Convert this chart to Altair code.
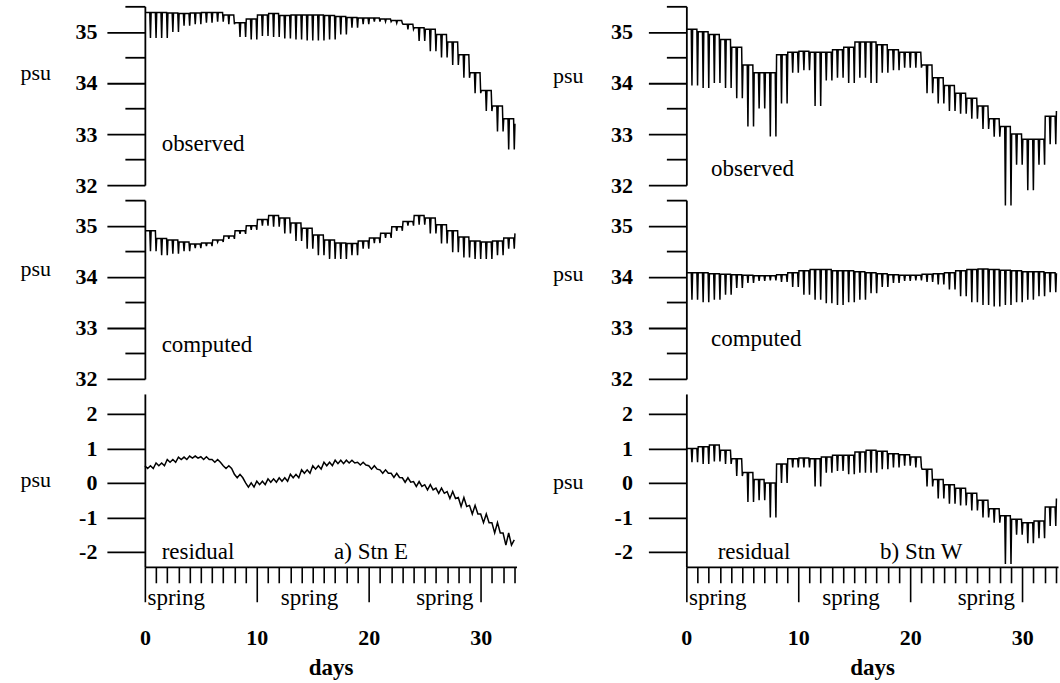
import altair as alt
import pandas as pd

# ---------------- values (one hi/lo pair per day) ----------------
DAYS = list(range(34))

OBS_E_HI = [35.38, 35.38, 35.37, 35.36, 35.37, 35.38, 35.38, 35.33, 35.18, 35.25,
            35.33, 35.36, 35.32, 35.33, 35.33, 35.33, 35.32, 35.30, 35.28, 35.27,
            35.27, 35.25, 35.22, 35.15, 35.08, 35.05, 34.95, 34.80, 34.55, 34.20,
            33.85, 33.55, 33.30, 33.20]
OBS_E_LO = [34.88, 34.88, 35.00, 35.12, 35.15, 35.18, 35.20, 35.15, 34.90, 34.85,
            34.92, 34.90, 34.87, 34.85, 34.83, 34.83, 34.85, 34.95, 35.08, 35.15,
            35.20, 35.20, 35.17, 35.05, 34.82, 34.62, 34.50, 34.35, 34.10, 33.80,
            33.45, 33.05, 32.70, 32.50]

COMP_E_HI = [34.90, 34.75, 34.72, 34.68, 34.64, 34.66, 34.72, 34.80, 34.90, 35.00,
             35.12, 35.20, 35.15, 35.05, 34.95, 34.82, 34.72, 34.66, 34.65, 34.70,
             34.76, 34.85, 34.98, 35.08, 35.20, 35.15, 35.02, 34.90, 34.78, 34.70,
             34.68, 34.70, 34.76, 34.85]
COMP_E_LO = [34.50, 34.42, 34.45, 34.50, 34.56, 34.60, 34.68, 34.74, 34.84, 34.92,
             35.00, 34.98, 34.85, 34.70, 34.55, 34.42, 34.35, 34.35, 34.42, 34.55,
             34.66, 34.76, 34.90, 35.00, 35.02, 34.85, 34.65, 34.48, 34.38, 34.35,
             34.35, 34.42, 34.55, 34.70]

RES_E_HI = [0.50, 0.58, 0.68, 0.75, 0.78, 0.76, 0.68, 0.50, 0.25, 0.00,
            0.05, 0.12, 0.15, 0.25, 0.38, 0.50, 0.60, 0.66, 0.66, 0.60,
            0.50, 0.38, 0.28, 0.15, 0.04, -0.05, -0.15, -0.25, -0.42, -0.65,
            -0.90, -1.15, -1.45, -1.65]
RES_E_LO = [0.42, 0.50, 0.60, 0.68, 0.72, 0.68, 0.60, 0.42, 0.15, -0.12,
            -0.05, 0.02, 0.05, 0.15, 0.28, 0.40, 0.50, 0.56, 0.58, 0.52,
            0.40, 0.28, 0.16, 0.02, -0.10, -0.20, -0.30, -0.45, -0.68, -0.90,
            -1.15, -1.45, -1.80, -2.05]

OBS_W_HI = [35.05, 35.00, 34.95, 34.85, 34.70, 34.35, 34.20, 34.20, 34.55, 34.60,
            34.62, 34.60, 34.60, 34.65, 34.70, 34.80, 34.80, 34.75, 34.65, 34.60,
            34.60, 34.35, 34.10, 33.95, 33.80, 33.70, 33.55, 33.30, 33.15, 33.00,
            32.90, 32.90, 33.35, 33.45]
OBS_W_LO = [33.95, 33.90, 34.00, 33.90, 33.70, 33.15, 33.50, 32.95, 33.60, 34.20,
            34.25, 33.55, 34.05, 34.10, 34.00, 34.10, 34.00, 34.20, 34.25, 34.30,
            34.30, 33.80, 33.60, 33.45, 33.40, 33.30, 33.10, 32.95, 31.60, 32.40,
            31.90, 32.40, 32.80, 33.00]

COMP_W_HI = [34.08, 34.08, 34.06, 34.05, 34.04, 34.03, 34.02, 34.02, 34.04, 34.08,
             34.12, 34.14, 34.14, 34.12, 34.12, 34.10, 34.08, 34.06, 34.04, 34.03,
             34.03, 34.05, 34.06, 34.08, 34.12, 34.14, 34.15, 34.14, 34.13, 34.12,
             34.10, 34.10, 34.08, 34.07]
COMP_W_LO = [33.55, 33.50, 33.55, 33.65, 33.78, 33.88, 33.92, 33.93, 33.90, 33.80,
             33.65, 33.55, 33.48, 33.45, 33.50, 33.55, 33.68, 33.80, 33.88, 33.92,
             33.93, 33.90, 33.85, 33.75, 33.62, 33.50, 33.45, 33.42, 33.45, 33.50,
             33.55, 33.62, 33.70, 33.75]

RES_W_HI = [1.00, 1.05, 1.10, 0.95, 0.70, 0.30, 0.10, 0.00, 0.55, 0.70,
            0.72, 0.70, 0.75, 0.80, 0.80, 0.90, 0.95, 0.92, 0.85, 0.82,
            0.75, 0.40, 0.10, -0.05, -0.15, -0.30, -0.50, -0.75, -0.95, -1.05,
            -1.15, -1.10, -0.70, -0.45]
RES_W_LO = [0.60, 0.55, 0.62, 0.55, 0.20, -0.55, -0.50, -1.00, 0.00, 0.45,
            0.45, -0.10, 0.30, 0.35, 0.25, 0.30, 0.30, 0.40, 0.45, 0.50,
            0.45, -0.10, -0.45, -0.60, -0.65, -0.80, -1.00, -1.15, -2.35, -1.50,
            -1.75, -1.60, -1.25, -1.05]

# annotation texts
OBS_TEXT_DAY = [1.5, 2.2]
OBS_TEXT_V = [32.8, 32.32]
COMP_TEXT_DAY = [1.5, 2.2]
COMP_TEXT_V = [32.66, 32.78]
RES_TEXT_E = ["residual", "a) Stn E"]
RES_TEXT_E_DAY = [1.5, 16.9]
RES_TEXT_W = ["residual", "b) Stn W"]
RES_TEXT_W_DAY = [2.8, 17.3]
RES_TEXT_V = -2.0
SPRING_DAYS = [2.8, 14.7, 26.8]

TOP_TICKS = [32, 32.5, 33, 33.5, 34, 34.5, 35, 35.5]
RES_TICKS = [-2, -1, 0, 1, 2]
DAY_TICKS = list(range(34))

# ---------------- layout / style ----------------
FONT = "Liberation Serif"
XMAX = 33.2
W = 372
H_TOP = 179
H_RES = 173
TOP_DOMAIN = [32, 35.5]
RES_DOMAIN = [-2.43, 2.58]
# sample times within a day (two tides a day)
NEEDLE = [(0.06, "h"), (0.44, "h"), (0.5, "l"), (0.56, "h"), (0.94, "h"), (1.0, "l")]
ZIGZAG = [(0.0, "h"), (0.25, "l"), (0.5, "h"), (0.75, "l")]


def series(hi, lo, pattern):
    rows = []
    for d, h, l in zip(DAYS, hi, lo):
        for off, which in pattern:
            t = d + off
            if t <= XMAX:
                rows.append({"day": t, "v": h if which == "h" else l})
    return pd.DataFrame(rows)


def x_enc(bottom):
    if bottom:
        axis = alt.Axis(
            values=DAY_TICKS,
            tickSize={"condition": {"test": "datum.value % 10 === 0", "value": 35}, "value": 16},
            labelExpr="datum.value % 10 === 0 ? '' + datum.value : ''",
            labelPadding=26, labelFlush=False, labelOverlap=False,
            labelFont=FONT, labelFontSize=22, labelFontWeight="bold", labelColor="black",
            domainColor="black", domainWidth=1.8, tickColor="black", tickWidth=1.6,
            grid=False, title="days", titleY=101, titleBaseline="middle",
            titleFont=FONT, titleFontSize=23, titleFontWeight="bold", titleColor="black",
        )
    else:
        axis = None
    return alt.X("day:Q", scale=alt.Scale(domain=[0, XMAX], nice=False, zero=False), axis=axis)


def y_enc(domain, ticks, pad, tx, ty):
    axis = alt.Axis(
        values=ticks,
        tickSize={"condition": {"test": "datum.value % 1 === 0", "value": 38}, "value": 20},
        labelExpr="datum.value % 1 === 0 ? '' + datum.value : ''",
        labelPadding=pad, labelFlush=False, labelOverlap=False,
        labelFont=FONT, labelFontSize=22, labelFontWeight="bold", labelColor="black",
        domainColor="black", domainWidth=1.8, tickColor="black", tickWidth=1.8,
        grid=False, title="psu", titleAngle=0, titleX=tx, titleY=ty,
        titleAlign="left", titleBaseline="middle",
        titleFont=FONT, titleFontSize=22, titleFontWeight="normal", titleColor="black",
    )
    return alt.Y("v:Q", scale=alt.Scale(domain=domain, nice=False, zero=False), axis=axis)


def panel(df, texts, domain, ticks, height, pad, tx, ty, bottom=False):
    xe = x_enc(bottom)
    ye = y_enc(domain, ticks, pad, tx, ty)
    line = alt.Chart(df).mark_line(color="black", strokeWidth=1.5).encode(x=xe, y=ye)
    txt = alt.Chart(texts).mark_text(
        align="left", baseline="middle", font=FONT, fontSize=23, color="black"
    ).encode(x=xe, y=ye, text="label:N")
    layers = [line, txt]
    if bottom:
        spring = alt.Chart(pd.DataFrame({"day": SPRING_DAYS, "label": ["spring"] * 3})).mark_text(
            align="center", baseline="middle", font=FONT, fontSize=23, color="black"
        ).encode(x=xe, y=alt.value(height + 31), text="label:N")
        layers.append(spring)
    return alt.layer(*layers).properties(width=W, height=height)


def texts(labels, days, vals):
    return pd.DataFrame({"label": labels, "day": days, "v": vals})


obsE = panel(series(OBS_E_HI, OBS_E_LO, NEEDLE), texts(["observed"], [OBS_TEXT_DAY[0]], [OBS_TEXT_V[0]]),
             TOP_DOMAIN, TOP_TICKS, H_TOP, 10, -125, 66)
compE = panel(series(COMP_E_HI, COMP_E_LO, NEEDLE), texts(["computed"], [COMP_TEXT_DAY[0]], [COMP_TEXT_V[0]]),
              TOP_DOMAIN, TOP_TICKS, H_TOP, 10, -125, 68)
resE = panel(series(RES_E_HI, RES_E_LO, ZIGZAG), texts(RES_TEXT_E, RES_TEXT_E_DAY, [RES_TEXT_V] * 2),
             RES_DOMAIN, RES_TICKS, H_RES, 10, -125, 86, bottom=True)

obsW = panel(series(OBS_W_HI, OBS_W_LO, NEEDLE), texts(["observed"], [OBS_TEXT_DAY[1]], [OBS_TEXT_V[1]]),
             TOP_DOMAIN, TOP_TICKS, H_TOP, 16, -134, 69)
compW = panel(series(COMP_W_HI, COMP_W_LO, NEEDLE), texts(["computed"], [COMP_TEXT_DAY[1]], [COMP_TEXT_V[1]]),
              TOP_DOMAIN, TOP_TICKS, H_TOP, 16, -134, 73)
resW = panel(series(RES_W_HI, RES_W_LO, NEEDLE), texts(RES_TEXT_W, RES_TEXT_W_DAY, [RES_TEXT_V] * 2),
             RES_DOMAIN, RES_TICKS, H_RES, 16, -134, 88, bottom=True)

chart = alt.concat(
    obsE, obsW, compE, compW, resE, resW,
    columns=2, spacing={"row": 15, "column": 170}, bounds="flush",
).properties(
    padding={"left": 20, "top": -5, "right": 0, "bottom": 0},
    background="white",
).configure_view(stroke=None)

chart.save("out.html", embed_options={"renderer": "svg", "actions": False})
